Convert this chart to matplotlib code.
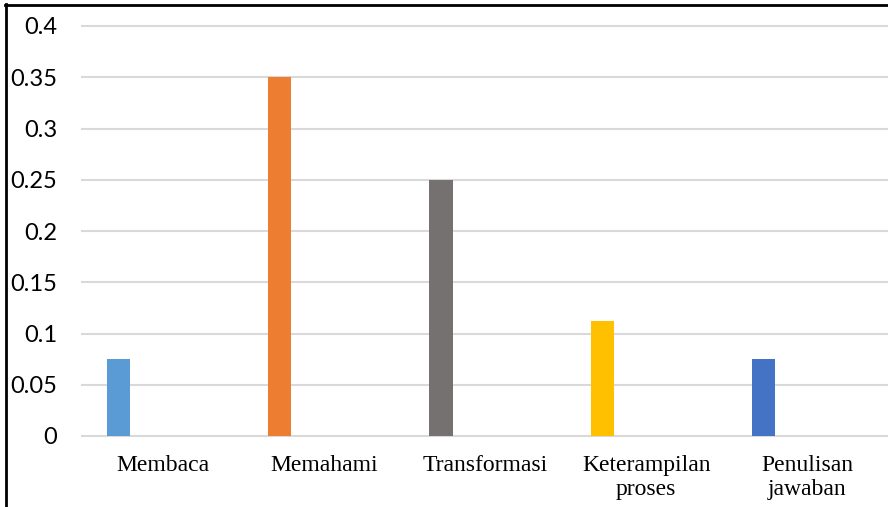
import matplotlib.pyplot as plt
from matplotlib.lines import Line2D

categories = ["Membaca", "Memahami", "Transformasi", "Keterampilan\nproses", "Penulisan\njawaban"]
values = [0.075, 0.35, 0.25, 0.1125, 0.075]
colors = ["#5B9BD5", "#ED7D31", "#767171", "#FFC000", "#4472C4"]
yticks = [0, 0.05, 0.1, 0.15, 0.2, 0.25, 0.3, 0.35, 0.4]
ytick_labels = ["0", "0.05", "0.1", "0.15", "0.2", "0.25", "0.3", "0.35", "0.4"]

W, H = 888, 507
fig = plt.figure(figsize=(W / 100, H / 100), dpi=100)
axis = fig.add_axes([82 / W, 1 - 436 / H, (W - 82) / W, (436 - 26) / H])

pos = list(range(len(categories)))
axis.bar([p - 0.273 for p in pos], values, width=0.143, color=colors, zorder=3)

axis.set_xlim(-0.5, len(categories) - 0.5)
axis.set_ylim(0, 0.4)
axis.set_yticks(yticks)
axis.set_yticklabels(ytick_labels, fontfamily="Lato", fontsize=17)
axis.set_xticks(pos)
axis.set_xticklabels(categories, fontfamily="Liberation Serif", fontsize=17,
                     linespacing=1.15)
axis.tick_params(axis="y", length=0, pad=18)
axis.tick_params(axis="x", length=0, pad=14)

for y in yticks:
    axis.axhline(y, color="#D9D9D9", linewidth=1.5, zorder=1, clip_on=False)
for side in axis.spines.values():
    side.set_visible(False)

# frame lines on the left and top of the figure
fig.add_artist(Line2D([6 / W, 6 / W], [0, 1 - 4 / H], color="black", linewidth=2))
fig.add_artist(Line2D([5 / W, 1], [1 - 5 / H, 1 - 5 / H], color="black", linewidth=2))

fig.savefig("out.png", dpi=100)
